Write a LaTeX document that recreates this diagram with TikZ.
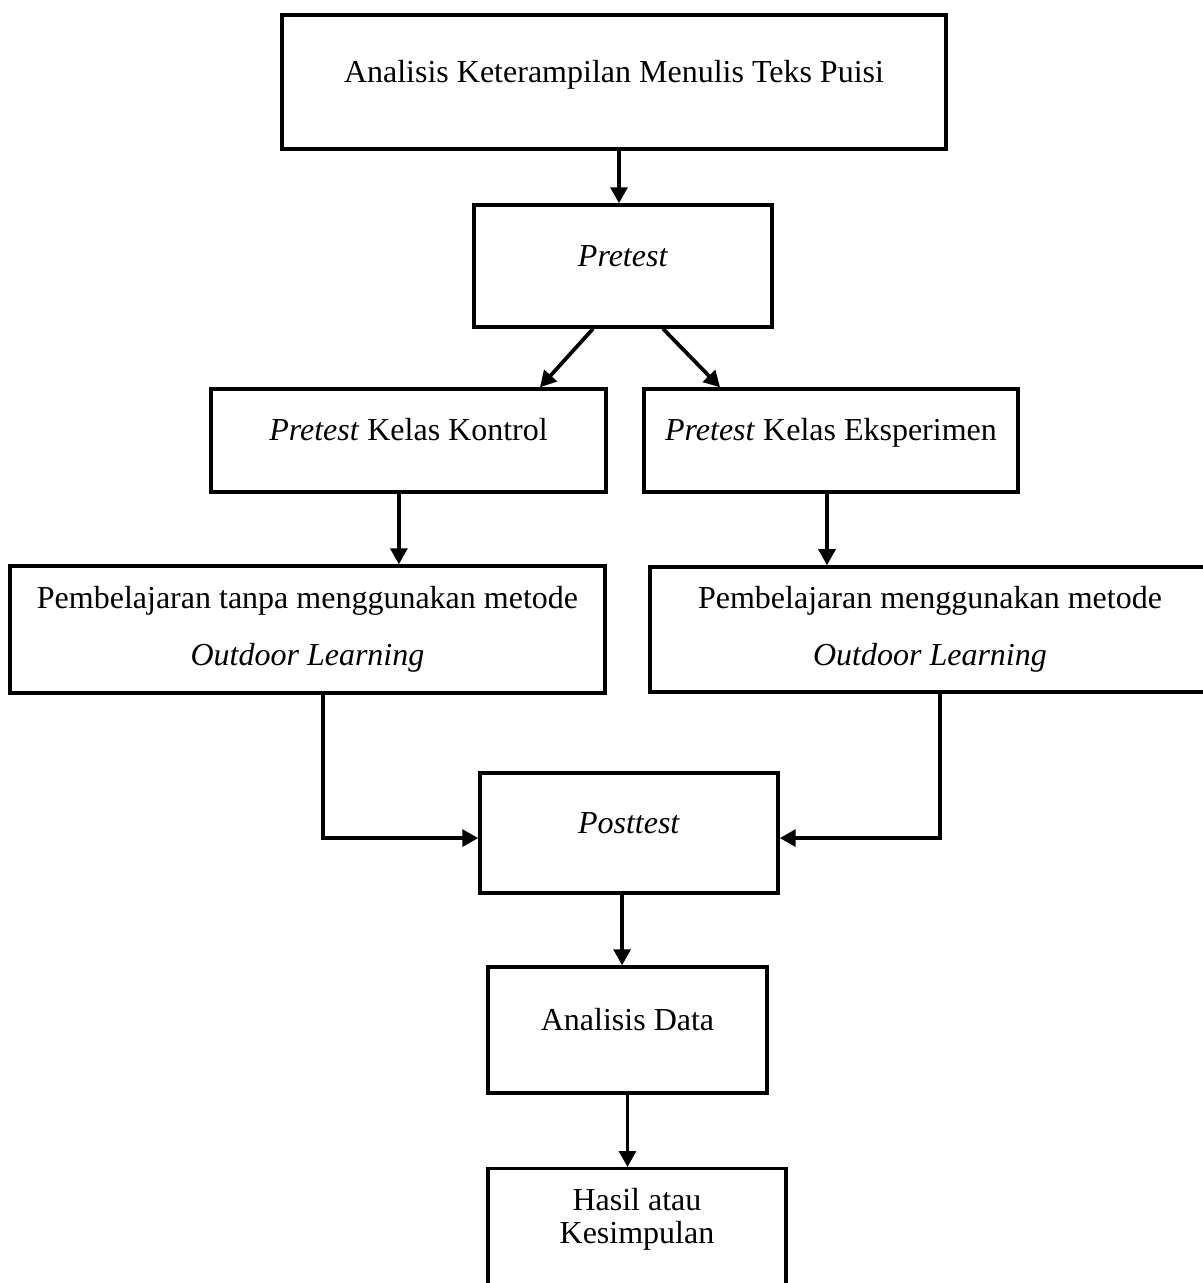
\documentclass[tikz,border=0pt]{standalone}
\usepackage{fontspec}
\setmainfont{Liberation Serif}
\usetikzlibrary{arrows.meta}

\begin{document}
\begin{tikzpicture}[
		x=0.375pt, y=-0.375pt,
		box/.style={
			shape=rectangle,
			draw,
			line width=1.3pt,
			align=center,
			inner sep=0pt,
			font=\fontsize{12}{21.4}\selectfont
		},
		oneline/.style={text height=8pt, text depth=8pt},
		arrow/.style={-{Triangle[length=6pt, width=6.3pt]}, line width=1.4pt}
		]
		\useasboundingbox (0,0) rectangle (1203,1283);
		\clip (0,0) rectangle (1203,1283);
		\node[box, oneline, minimum width=249pt, minimum height=50.25pt] (judul) at (614,82) {Analisis Keterampilan Menulis Teks Puisi};
		\node[box, oneline, minimum width=111.75pt, minimum height=45.75pt] (pretest) at (623,266) {\textit{Pretest}};
		\node[box, oneline, minimum width=148.1pt, minimum height=38.6pt] (preKontrol) at (408.5,440.5) {\textit{Pretest} Kelas Kontrol};
		\node[box, oneline, minimum width=140.25pt, minimum height=38.6pt] (preEksperimen) at (831,440.5) {\textit{Pretest} Kelas Eksperimen};
		\node[box, minimum width=223.1pt, minimum height=47.6pt] (belajarKontrol) at (307.5,629.5) {Pembelajaran tanpa menggunakan metode\\ \textit{Outdoor Learning}};
		\node[box, minimum width=210pt, minimum height=46.9pt] (belajarEksperimen) at (930,629.5) {Pembelajaran menggunakan metode\\ \textit{Outdoor Learning}};
		\node[box, oneline, minimum width=111.75pt, minimum height=45pt] (posttest) at (629,833) {\textit{Posttest}};
		\node[box, oneline, minimum width=104.6pt, minimum height=47.25pt] (analisis) at (627.5,1030) {Analisis Data};
		\node[box, font=\fontsize{12}{12.4}\selectfont, minimum width=111.75pt, minimum height=48pt, anchor=north] (hasil) at (637,1167) {Hasil atau\\Kesimpulan\\~};

		% connectors
		\draw[arrow] ([xshift=-1.5pt]judul.south -| pretest.north) -- ([xshift=-1.5pt]pretest.north);
		\draw[arrow] ([xshift=-11.25pt]pretest.south) -- ([xshift=49.3pt]preKontrol.north);
		\draw[arrow] ([xshift=15pt]pretest.south) -- ([xshift=-41.6pt]preEksperimen.north);
		\draw[arrow] ([xshift=-3.6pt]preKontrol.south) -- ([xshift=-3.6pt]preKontrol.south |- belajarKontrol.north);
		\draw[arrow] ([xshift=-1.5pt]preEksperimen.south) -- ([xshift=-1.5pt]preEksperimen.south |- belajarEksperimen.north);
		\draw[arrow] ([xshift=5.8pt]belajarKontrol.south) |- ([yshift=-1.9pt]posttest.west);
		\draw[arrow] ([xshift=3.75pt]belajarEksperimen.south) |- ([yshift=-1.9pt]posttest.east);
		\draw[arrow] ([xshift=-2.6pt]posttest.south) -- ([xshift=-2.6pt]posttest.south |- analisis.north);
		\draw[arrow] (analisis.south) -- (analisis.south |- hasil.north);
	\end{tikzpicture}
\end{document}
